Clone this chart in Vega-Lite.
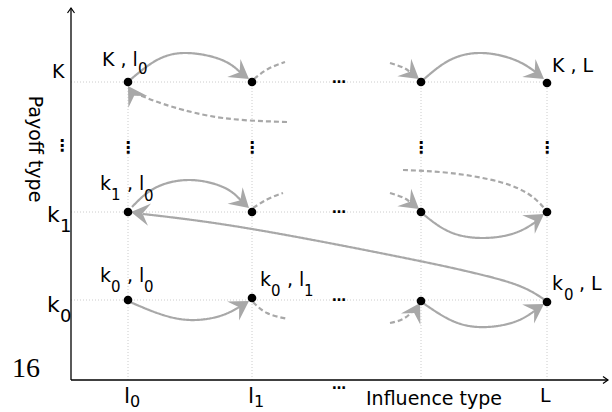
{
  "$schema": "https://vega.github.io/schema/vega-lite/v6.json",
  "width": 537,
  "height": 370,
  "autosize": "none",
  "padding": {"left": 71, "top": 10, "right": 4, "bottom": 32},
  "background": "white",
  "config": {"view": {"stroke": null}, "text": {"font": "DejaVu Sans"}},
  "datasets": {
    "grid": [
      {"x": 0, "y": 298, "x2": 476, "y2": 298},
      {"x": 0, "y": 168, "x2": 476, "y2": 168},
      {"x": 0, "y": 80, "x2": 476, "y2": 80},
      {"x": 57, "y": 0, "x2": 57, "y2": 298},
      {"x": 181, "y": 0, "x2": 181, "y2": 298},
      {"x": 350, "y": 0, "x2": 350, "y2": 298},
      {"x": 476, "y": 0, "x2": 476, "y2": 298}
    ],
    "axes": [
      {"x": 0, "y": 0, "x2": 0, "y2": 372},
      {"x": 0, "y": 0, "x2": 537, "y2": 0}
    ],
    "axisTips": [
      {"x": 0, "y": 372, "dir": 270},
      {"x": 537, "y": 0, "dir": 0}
    ],
    "curves": [
      {"id": "S1", "i": 1, "x": 59, "y": 300, "style": "solid"},
      {"id": "S1", "i": 2, "x": 86, "y": 320, "style": "solid"},
      {"id": "S1", "i": 3, "x": 116, "y": 327, "style": "solid"},
      {"id": "S1", "i": 4, "x": 151, "y": 320, "style": "solid"},
      {"id": "S1", "i": 5, "x": 171, "y": 306, "style": "solid"},
      {"id": "S2", "i": 1, "x": 352, "y": 300, "style": "solid"},
      {"id": "S2", "i": 2, "x": 379, "y": 320, "style": "solid"},
      {"id": "S2", "i": 3, "x": 411, "y": 327, "style": "solid"},
      {"id": "S2", "i": 4, "x": 444, "y": 320, "style": "solid"},
      {"id": "S2", "i": 5, "x": 466, "y": 307, "style": "solid"},
      {"id": "S3", "i": 1, "x": 61, "y": 173, "style": "solid"},
      {"id": "S3", "i": 2, "x": 84, "y": 192, "style": "solid"},
      {"id": "S3", "i": 3, "x": 119, "y": 200, "style": "solid"},
      {"id": "S3", "i": 4, "x": 154, "y": 192, "style": "solid"},
      {"id": "S3", "i": 5, "x": 172, "y": 177, "style": "solid"},
      {"id": "S4", "i": 1, "x": 72, "y": 166, "style": "solid"},
      {"id": "S4", "i": 2, "x": 181, "y": 151, "style": "solid"},
      {"id": "S4", "i": 3, "x": 329, "y": 123, "style": "solid"},
      {"id": "S4", "i": 4, "x": 399, "y": 108, "style": "solid"},
      {"id": "S4", "i": 5, "x": 446, "y": 95, "style": "solid"},
      {"id": "S4", "i": 6, "x": 474, "y": 80, "style": "solid"},
      {"id": "S5", "i": 1, "x": 352, "y": 166, "style": "solid"},
      {"id": "S5", "i": 2, "x": 379, "y": 148, "style": "solid"},
      {"id": "S5", "i": 3, "x": 412, "y": 142, "style": "solid"},
      {"id": "S5", "i": 4, "x": 444, "y": 147, "style": "solid"},
      {"id": "S5", "i": 5, "x": 466, "y": 159, "style": "solid"},
      {"id": "S6", "i": 1, "x": 59, "y": 78, "style": "solid"},
      {"id": "S6", "i": 2, "x": 89, "y": 66, "style": "solid"},
      {"id": "S6", "i": 3, "x": 119, "y": 60, "style": "solid"},
      {"id": "S6", "i": 4, "x": 149, "y": 64, "style": "solid"},
      {"id": "S6", "i": 5, "x": 170, "y": 74, "style": "solid"},
      {"id": "S7", "i": 1, "x": 352, "y": 77, "style": "solid"},
      {"id": "S7", "i": 2, "x": 384, "y": 58, "style": "solid"},
      {"id": "S7", "i": 3, "x": 416, "y": 53, "style": "solid"},
      {"id": "S7", "i": 4, "x": 446, "y": 59, "style": "solid"},
      {"id": "S7", "i": 5, "x": 466, "y": 71, "style": "solid"},
      {"id": "D1", "i": 1, "x": 183, "y": 301, "style": "dashed"},
      {"id": "D1", "i": 2, "x": 197, "y": 311, "style": "dashed"},
      {"id": "D1", "i": 3, "x": 214, "y": 318, "style": "dashed"},
      {"id": "D2", "i": 1, "x": 216, "y": 258, "style": "dashed"},
      {"id": "D2", "i": 2, "x": 152, "y": 262, "style": "dashed"},
      {"id": "D2", "i": 3, "x": 102, "y": 273, "style": "dashed"},
      {"id": "D2", "i": 4, "x": 76, "y": 282, "style": "dashed"},
      {"id": "D2", "i": 5, "x": 64, "y": 287, "style": "dashed"},
      {"id": "D3", "i": 1, "x": 319, "y": 317, "style": "dashed"},
      {"id": "D3", "i": 2, "x": 333, "y": 312, "style": "dashed"},
      {"id": "D3", "i": 3, "x": 341, "y": 306, "style": "dashed"},
      {"id": "D4", "i": 1, "x": 182, "y": 172, "style": "dashed"},
      {"id": "D4", "i": 2, "x": 197, "y": 181, "style": "dashed"},
      {"id": "D4", "i": 3, "x": 212, "y": 187, "style": "dashed"},
      {"id": "D5", "i": 1, "x": 319, "y": 187, "style": "dashed"},
      {"id": "D5", "i": 2, "x": 333, "y": 182, "style": "dashed"},
      {"id": "D5", "i": 3, "x": 341, "y": 176, "style": "dashed"},
      {"id": "D6", "i": 1, "x": 332, "y": 210, "style": "dashed"},
      {"id": "D6", "i": 2, "x": 379, "y": 207, "style": "dashed"},
      {"id": "D6", "i": 3, "x": 429, "y": 198, "style": "dashed"},
      {"id": "D6", "i": 4, "x": 459, "y": 185, "style": "dashed"},
      {"id": "D6", "i": 5, "x": 474, "y": 171, "style": "dashed"},
      {"id": "D7", "i": 1, "x": 182, "y": 78, "style": "dashed"},
      {"id": "D7", "i": 2, "x": 196, "y": 67, "style": "dashed"},
      {"id": "D7", "i": 3, "x": 217, "y": 61, "style": "dashed"},
      {"id": "D8", "i": 1, "x": 319, "y": 57, "style": "dashed"},
      {"id": "D8", "i": 2, "x": 332, "y": 61, "style": "dashed"},
      {"id": "D8", "i": 3, "x": 342, "y": 69, "style": "dashed"}
    ],
    "arrows": [
      {"x": 178, "y": 301, "dir": 36},
      {"x": 473, "y": 301, "dir": 36},
      {"x": 178, "y": 172, "dir": 42},
      {"x": 60, "y": 168, "dir": 188},
      {"x": 473, "y": 166, "dir": -34},
      {"x": 178, "y": 79, "dir": -32},
      {"x": 473, "y": 76, "dir": -32},
      {"x": 57, "y": 294, "dir": 238},
      {"x": 348, "y": 301, "dir": 38},
      {"x": 348, "y": 171, "dir": 38},
      {"x": 349, "y": 77, "dir": -60}
    ],
    "nodes": [
      {"x": 57, "y": 298}, {"x": 181, "y": 298}, {"x": 350, "y": 298}, {"x": 476, "y": 297},
      {"x": 57, "y": 168}, {"x": 181, "y": 168}, {"x": 350, "y": 168}, {"x": 476, "y": 168},
      {"x": 57, "y": 80}, {"x": 181, "y": 82}, {"x": 350, "y": 79}, {"x": 476, "y": 78}
    ],
    "hdots": [
      {"x": 268, "y": 297, "t": "…"},
      {"x": 268, "y": 167, "t": "…"},
      {"x": 268, "y": 79, "t": "…"},
      {"x": 268, "y": -9, "t": "…"}
    ],
    "vdots": [
      {"x": 57, "y": 227, "t": "⋮"},
      {"x": 181, "y": 227, "t": "⋮"},
      {"x": 350, "y": 227, "t": "⋮"},
      {"x": 476, "y": 227, "t": "⋮"},
      {"x": -9, "y": 229, "t": "⋮"}
    ],
    "mainText": [
      {"x": 31, "y": 314, "t": "K , l"},
      {"x": 481, "y": 308, "t": "K , L"},
      {"x": 29, "y": 190, "t": "k"},
      {"x": 56, "y": 190, "t": ", l"},
      {"x": 29, "y": 98, "t": "k"},
      {"x": 56, "y": 98, "t": ", l"},
      {"x": 189, "y": 94, "t": "k"},
      {"x": 216, "y": 94, "t": ", l"},
      {"x": 481, "y": 90, "t": "k"},
      {"x": 508, "y": 90, "t": ", L"},
      {"x": -19, "y": 302, "t": "K"},
      {"x": 469, "y": -22, "t": "L"}
    ],
    "subText": [
      {"x": 67, "y": 306, "t": "0"},
      {"x": 40, "y": 180, "t": "1"},
      {"x": 73, "y": 179, "t": "0"},
      {"x": 40, "y": 88, "t": "0"},
      {"x": 73, "y": 88, "t": "0"},
      {"x": 200, "y": 84, "t": "0"},
      {"x": 233, "y": 84, "t": "1"},
      {"x": 493, "y": 80, "t": "0"}
    ],
    "axisText": [
      {"x": -24, "y": 158, "t": "k"},
      {"x": -24, "y": 68, "t": "k"},
      {"x": 53, "y": -23, "t": "l"},
      {"x": 177, "y": -23, "t": "l"}
    ],
    "axisSub": [
      {"x": -11, "y": 148, "t": "1"},
      {"x": -11, "y": 58, "t": "0"}
    ],
    "axisSubLow": [
      {"x": 59, "y": -27, "t": "0"},
      {"x": 183, "y": -27, "t": "1"}
    ],
    "xTitle": [{"x": 363, "y": -25, "t": "Influence type"}],
    "yTitle": [{"x": -36, "y": 231, "t": "Payoff type"}],
    "page": [{"x": -59, "y": 3, "t": "16"}]
  },
  "encoding": {
    "x": {"field": "x", "type": "quantitative", "scale": {"domain": [0, 537], "nice": false, "zero": false}, "axis": null},
    "y": {"field": "y", "type": "quantitative", "scale": {"domain": [0, 370], "nice": false, "zero": false}, "axis": null}
  },
  "layer": [
    {
      "data": {"name": "grid"},
      "mark": {"type": "rule", "color": "#cccccc", "strokeWidth": 1, "strokeDash": [1, 2]},
      "encoding": {"x2": {"field": "x2"}, "y2": {"field": "y2"}}
    },
    {
      "data": {"name": "axes"},
      "mark": {"type": "rule", "color": "black", "strokeWidth": 1.3},
      "encoding": {"x2": {"field": "x2"}, "y2": {"field": "y2"}}
    },
    {
      "data": {"name": "axisTips"},
      "mark": {"type": "point", "shape": "M-1,-0.7 L0,0 L-1,0.7", "size": 100, "filled": false, "color": "black", "strokeWidth": 1.2, "opacity": 1},
      "encoding": {"angle": {"field": "dir", "type": "quantitative", "scale": null}}
    },
    {
      "data": {"name": "curves"},
      "mark": {"type": "line", "interpolate": "natural", "color": "#a8a8a8", "strokeWidth": 2.2},
      "encoding": {
        "detail": {"field": "id"},
        "order": {"field": "i", "type": "quantitative"},
        "strokeDash": {"field": "style", "type": "nominal", "scale": {"domain": ["solid", "dashed"], "range": [[1, 0], [5, 3]]}, "legend": null}
      }
    },
    {
      "data": {"name": "arrows"},
      "mark": {"type": "point", "shape": "M0,0 L-1,-0.6 L-0.62,0 L-1,0.6 Z", "size": 1400, "filled": true, "color": "#a8a8a8", "opacity": 1, "strokeWidth": 0},
      "encoding": {"angle": {"field": "dir", "type": "quantitative", "scale": null}}
    },
    {
      "data": {"name": "nodes"},
      "mark": {"type": "point", "shape": "circle", "size": 75, "filled": true, "color": "black", "opacity": 1}
    },
    {
      "data": {"name": "hdots"},
      "mark": {"type": "text", "align": "center", "baseline": "alphabetic", "fontSize": 14, "fontWeight": "bold", "color": "black"},
      "encoding": {"text": {"field": "t"}}
    },
    {
      "data": {"name": "vdots"},
      "mark": {"type": "text", "align": "center", "baseline": "alphabetic", "fontSize": 16, "fontWeight": "bold", "color": "black"},
      "encoding": {"text": {"field": "t"}}
    },
    {
      "data": {"name": "mainText"},
      "mark": {"type": "text", "align": "left", "baseline": "alphabetic", "fontSize": 19, "color": "black"},
      "encoding": {"text": {"field": "t"}}
    },
    {
      "data": {"name": "subText"},
      "mark": {"type": "text", "align": "left", "baseline": "alphabetic", "fontSize": 15, "color": "black"},
      "encoding": {"text": {"field": "t"}}
    },
    {
      "data": {"name": "axisText"},
      "mark": {"type": "text", "align": "left", "baseline": "alphabetic", "fontSize": 22, "color": "black"},
      "encoding": {"text": {"field": "t"}}
    },
    {
      "data": {"name": "axisSub"},
      "mark": {"type": "text", "align": "left", "baseline": "alphabetic", "fontSize": 18, "color": "black"},
      "encoding": {"text": {"field": "t"}}
    },
    {
      "data": {"name": "axisSubLow"},
      "mark": {"type": "text", "align": "left", "baseline": "alphabetic", "fontSize": 16, "color": "black"},
      "encoding": {"text": {"field": "t"}}
    },
    {
      "data": {"name": "xTitle"},
      "mark": {"type": "text", "align": "center", "baseline": "alphabetic", "fontSize": 19, "color": "black"},
      "encoding": {"text": {"field": "t"}}
    },
    {
      "data": {"name": "yTitle"},
      "mark": {"type": "text", "align": "center", "baseline": "middle", "angle": 90, "fontSize": 19, "color": "black"},
      "encoding": {"text": {"field": "t"}}
    },
    {
      "data": {"name": "page"},
      "mark": {"type": "text", "align": "left", "baseline": "alphabetic", "font": "Liberation Serif", "fontSize": 28, "color": "black"},
      "encoding": {"text": {"field": "t"}}
    }
  ]
}
